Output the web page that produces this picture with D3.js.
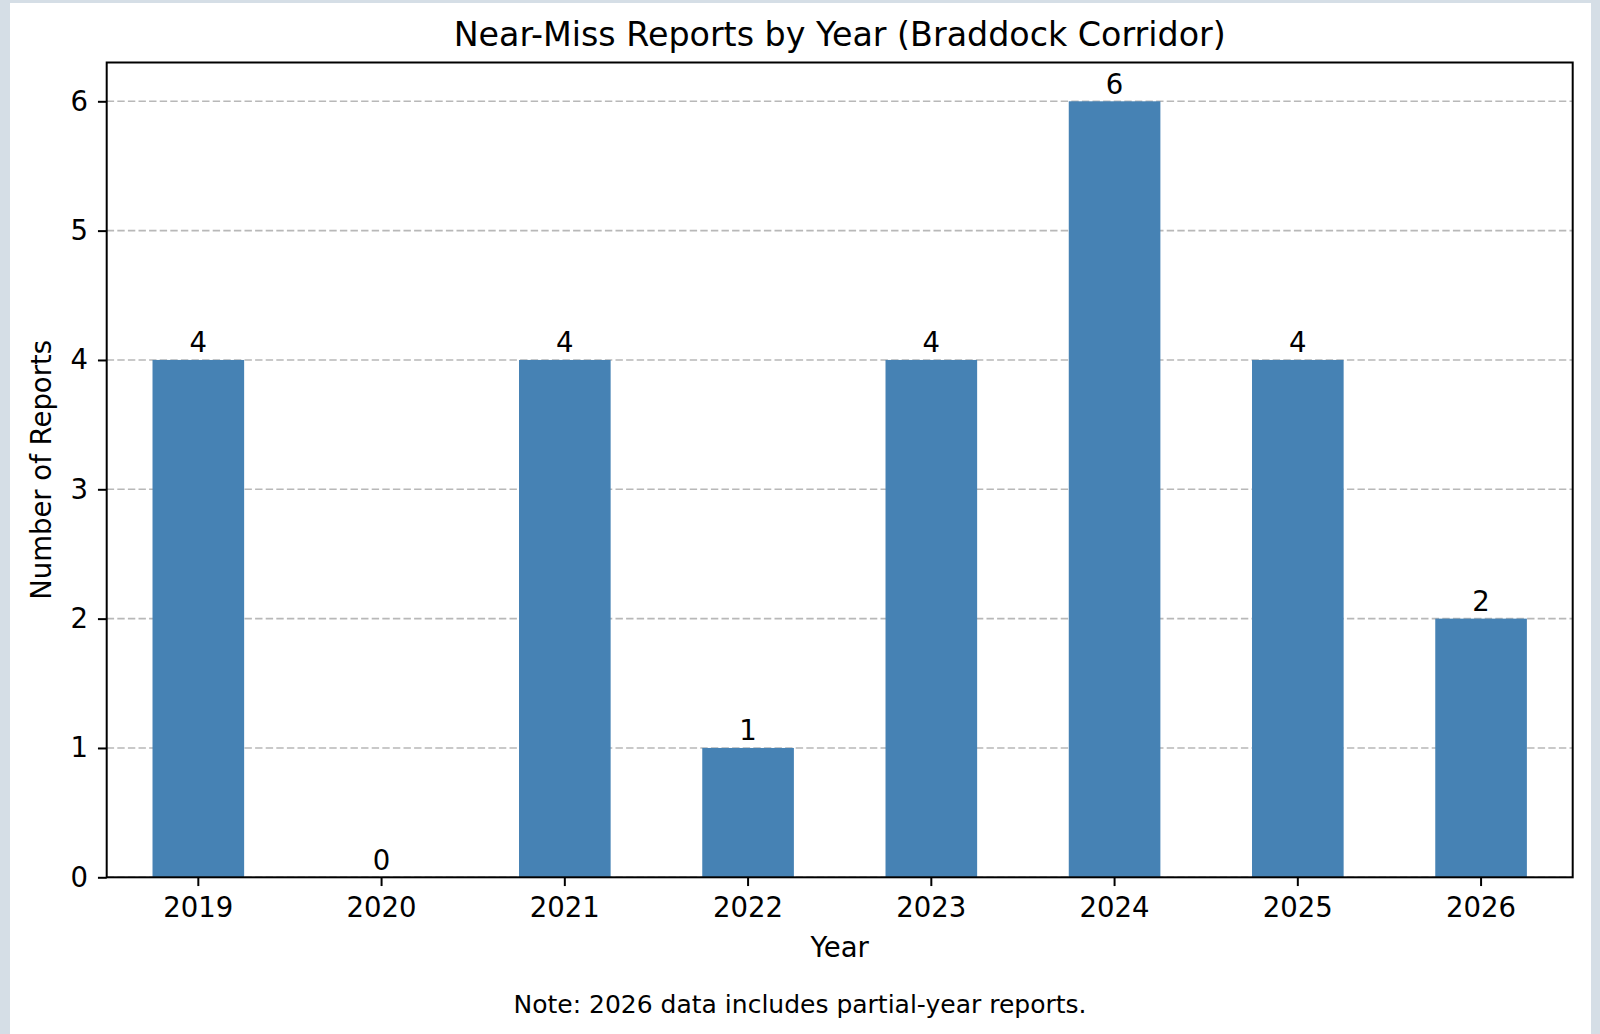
<!DOCTYPE html>
<html>
<head>
<meta charset="utf-8">
<script src="https://cdn.jsdelivr.net/npm/d3@7"></script>
<style>
  html, body { margin: 0; padding: 0; background: #d5dee6; overflow: hidden; }
  svg { display: block; }
  text { font-family: "DejaVu Sans", sans-serif; fill: #000; }
</style>
</head>
<body>
<div id="chart"></div>
<script>
// data
const years = ["2019", "2020", "2021", "2022", "2023", "2024", "2025", "2026"];
const reports = [4, 0, 4, 1, 4, 6, 4, 2];
const yTicks = [0, 1, 2, 3, 4, 5, 6];

const titleText = "Near-Miss Reports by Year (Braddock Corridor)";
const xLabel = "Year";
const yLabel = "Number of Reports";
const noteText = "Note: 2026 data includes partial-year reports.";

const config = {
  width: 1600,
  height: 1034,
  margin: { top: 62.5, right: 27.3, bottom: 156.7, left: 106.7 },
  barColor: "#4682b4",
  fontSize: 27.5,
};

const innerWidth = config.width - config.margin.left - config.margin.right;
const innerHeight = config.height - config.margin.top - config.margin.bottom;

const svg = d3.select("#chart")
  .append("svg")
  .attr("width", config.width)
  .attr("height", config.height);

// page card
svg.append("rect")
  .attr("x", 0).attr("y", 0)
  .attr("width", config.width).attr("height", config.height)
  .attr("fill", "#d5dee6");
svg.append("rect")
  .attr("x", 10).attr("y", 3)
  .attr("width", 1581).attr("height", config.height)
  .attr("fill", "#fff");

const chart = svg.append("g")
  .attr("transform", `translate(${config.margin.left},${config.margin.top})`);

const xScale = d3.scaleBand()
  .domain(years)
  .range([0, innerWidth])
  .paddingInner(0.5)
  .paddingOuter(0.25);

const yScale = d3.scaleLinear()
  .domain([0, 6.3])
  .range([innerHeight, 0]);

// grid behind bars
chart.append("g")
  .selectAll("line")
  .data(yTicks)
  .join("line")
  .attr("x1", 0)
  .attr("x2", innerWidth)
  .attr("y1", d => yScale(d))
  .attr("y2", d => yScale(d))
  .attr("stroke", "#b8b8b8")
  .attr("stroke-width", 1.6)
  .attr("stroke-dasharray", "7.4,3.2");

const data = years.map((y, i) => ({ year: y, value: reports[i] }));

chart.selectAll(".bar")
  .data(data)
  .join("rect")
  .attr("class", "bar")
  .attr("x", d => xScale(d.year))
  .attr("y", d => yScale(d.value))
  .attr("width", xScale.bandwidth())
  .attr("height", d => innerHeight - yScale(d.value))
  .attr("fill", config.barColor);

chart.selectAll(".bar-label")
  .data(data)
  .join("text")
  .attr("class", "bar-label")
  .attr("x", d => xScale(d.year) + xScale.bandwidth() / 2)
  .attr("y", d => yScale(d.value) - 7.5)
  .attr("text-anchor", "middle")
  .style("font-size", config.fontSize + "px")
  .text(d => d.value);

// axes
const xAxis = d3.axisBottom(xScale).tickSize(8.75).tickPadding(11.4);
const yAxis = d3.axisLeft(yScale)
  .tickValues(yTicks)
  .tickFormat(d3.format("d"))
  .tickSize(8.75)
  .tickPadding(10);

const xAxisG = chart.append("g")
  .attr("transform", `translate(0,${innerHeight})`)
  .call(xAxis);
const yAxisG = chart.append("g").call(yAxis);

[xAxisG, yAxisG].forEach(g => {
  g.select(".domain").remove();
  g.selectAll(".tick line").attr("stroke", "#000").attr("stroke-width", 2);
  g.selectAll(".tick text")
    .style("font-size", config.fontSize + "px")
    .style("font-family", "DejaVu Sans, sans-serif")
    .attr("fill", "#000");
});

// frame
chart.append("rect")
  .attr("x", 0).attr("y", 0)
  .attr("width", innerWidth).attr("height", innerHeight)
  .attr("fill", "none")
  .attr("stroke", "#000")
  .attr("stroke-width", 2);

// titles
svg.append("text")
  .attr("x", config.margin.left + innerWidth / 2)
  .attr("y", 46)
  .attr("text-anchor", "middle")
  .style("font-size", "33.3px")
  .text(titleText);

svg.append("text")
  .attr("x", config.margin.left + innerWidth / 2)
  .attr("y", 957)
  .attr("text-anchor", "middle")
  .style("font-size", config.fontSize + "px")
  .text(xLabel);

svg.append("text")
  .attr("transform", `translate(51,${config.margin.top + innerHeight / 2}) rotate(-90)`)
  .attr("text-anchor", "middle")
  .style("font-size", config.fontSize + "px")
  .text(yLabel);

svg.append("text")
  .attr("x", 800)
  .attr("y", 1013)
  .attr("text-anchor", "middle")
  .style("font-size", "25px")
  .attr("fill", "#222")
  .text(noteText);
</script>
</body>
</html>
